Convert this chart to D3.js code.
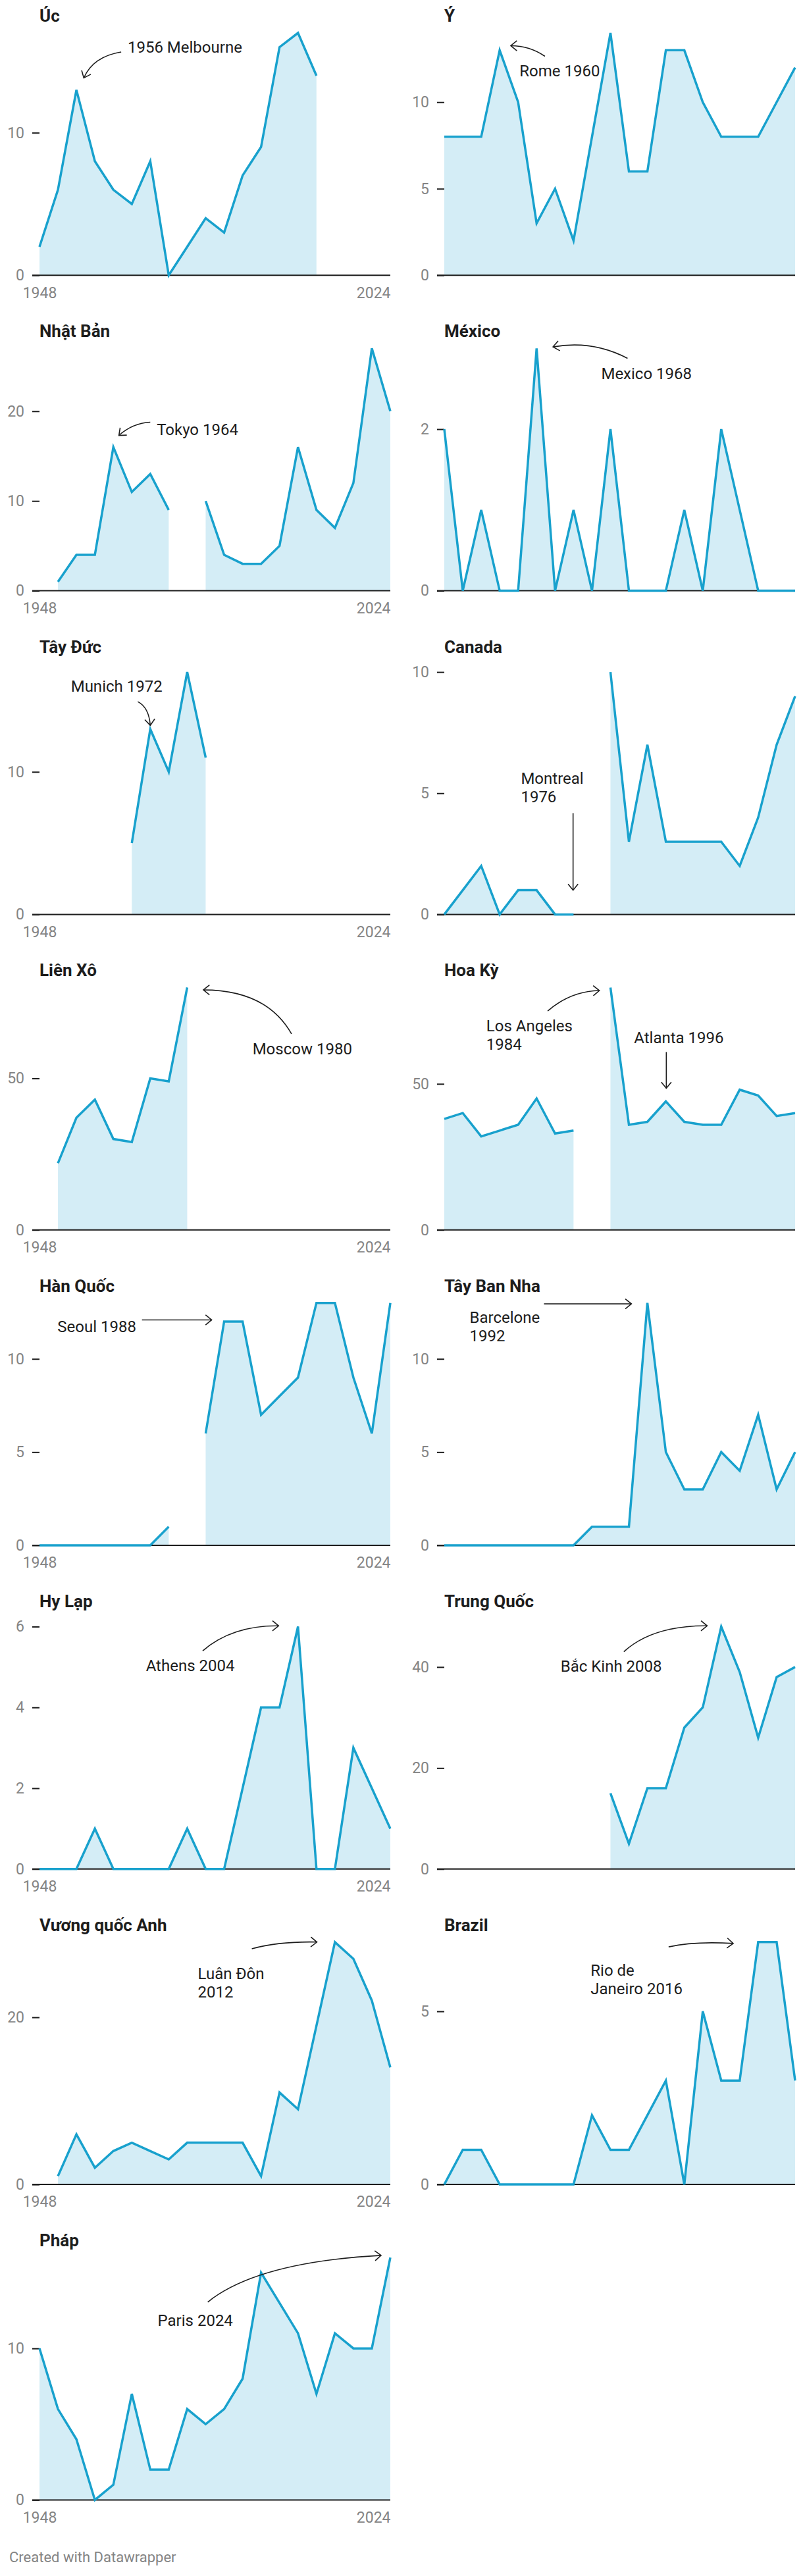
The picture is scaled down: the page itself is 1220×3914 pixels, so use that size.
<!DOCTYPE html>
<html lang="vi">
<head>
<meta charset="utf-8">
<script src="https://cdn.jsdelivr.net/npm/d3@7"></script>
<style>
  html, body { margin: 0; padding: 0; background: #fff; }
  svg { display: block; font-family: Roboto, "Noto Sans", sans-serif; }
</style>
</head>
<body>
<svg id="chart" width="1220" height="3914"></svg>
<script>
// Olympic gold medals per Games, 1948-2024 (null = did not take part / no data)
const years = d3.range(1948, 2025, 4);

const goldAustralia   = [2, 6, 13, 8, 6, 5, 8, 0, 2, 4, 3, 7, 9, 16, 17, 14, null, null, null, null];
const goldItaly       = [8, 8, 8, 13, 10, 3, 5, 2, 8, 14, 6, 6, 13, 13, 10, 8, 8, 8, 10, 12];
const goldJapan       = [null, 1, 4, 4, 16, 11, 13, 9, null, 10, 4, 3, 3, 5, 16, 9, 7, 12, 27, 20];
const goldMexico      = [2, 0, 1, 0, 0, 3, 0, 1, 0, 2, 0, 0, 0, 1, 0, 2, 1, 0, 0, 0];
const goldWestGermany = [null, null, null, null, null, 5, 13, 10, 17, 11, null, null, null, null, null, null, null, null, null, null];
const goldCanada      = [0, 1, 2, 0, 1, 1, 0, 0, null, 10, 3, 7, 3, 3, 3, 3, 2, 4, 7, 9];
const goldSoviet      = [null, 22, 37, 43, 30, 29, 50, 49, 80, null, null, null, null, null, null, null, null, null, null, null];
const goldUSA         = [38, 40, 32, 34, 36, 45, 33, 34, null, 83, 36, 37, 44, 37, 36, 36, 48, 46, 39, 40];
const goldKorea       = [0, 0, 0, 0, 0, 0, 0, 1, null, 6, 12, 12, 7, 8, 9, 13, 13, 9, 6, 13];
const goldSpain       = [0, 0, 0, 0, 0, 0, 0, 0, 1, 1, 1, 13, 5, 3, 3, 5, 4, 7, 3, 5];
const goldGreece      = [0, 0, 0, 1, 0, 0, 0, 0, 1, 0, 0, 2, 4, 4, 6, 0, 0, 3, 2, 1];
const goldChina       = [null, null, null, null, null, null, null, null, null, 15, 5, 16, 16, 28, 32, 48, 39, 26, 38, 40];
const goldBritain     = [null, 1, 6, 2, 4, 5, 4, 3, 5, 5, 5, 5, 1, 11, 9, 19, 29, 27, 22, 14];
const goldBrazil      = [0, 1, 1, 0, 0, 0, 0, 0, 2, 1, 1, 2, 3, 0, 5, 3, 3, 7, 7, 3];
const goldFrance      = [10, 6, 4, 0, 1, 7, 2, 2, 6, 5, 6, 8, 15, 13, 11, 7, 11, 10, 10, 16];

const countryNames = ['Úc', 'Ý', 'Nhật Bản', 'México', 'Tây Đức', 'Canada', 'Liên Xô', 'Hoa Kỳ',
  'Hàn Quốc', 'Tây Ban Nha', 'Hy Lạp', 'Trung Quốc', 'Vương quốc Anh', 'Brazil', 'Pháp'];
const countryGold = [goldAustralia, goldItaly, goldJapan, goldMexico, goldWestGermany, goldCanada,
  goldSoviet, goldUSA, goldKorea, goldSpain, goldGreece, goldChina, goldBritain, goldBrazil, goldFrance];
const yTicks = [[0, 10], [0, 5, 10], [0, 10, 20], [0, 2], [0, 10], [0, 5, 10], [0, 50], [0, 50],
  [0, 5, 10], [0, 5, 10], [0, 2, 4, 6], [0, 20, 40], [0, 20], [0, 5], [0, 10]];
const xTickLabels = [1948, 2024];

// annotations in data units: text anchor [year, value], arrow [start, control|null, end]
const annotations = [
  { panel: 0, lines: ['1956 Melbourne'], at: [1967.1, 16.0], arrow: [[1965.7, 15.66], [1959.6, 15.34], [1957.6, 13.84]] },
  { panel: 1, lines: ['Rome 1960'], at: [1964.3, 11.8], arrow: [[1969.8, 12.65], [1966.5, 13.26], [1962.4, 13.26]] },
  { panel: 2, lines: ['Tokyo 1964'], at: [1973.4, 17.94], arrow: [[1972.0, 18.77], [1968.2, 18.67], [1965.2, 17.3]] },
  { panel: 3, lines: ['Mexico 1968'], at: [1982.0, 2.686], arrow: [[1987.7, 2.876], [1980.1, 3.105], [1971.55, 3.018]] },
  { panel: 4, lines: ['Munich 1972'], at: [1954.8, 16.0], arrow: [[1969.3, 14.92], [1971.7, 14.52], [1972.0, 13.26]] },
  { panel: 5, lines: ['Montreal', '1976'], at: [1964.6, 5.62], arrow: [[1975.9, 4.18], null, [1975.9, 1.0]] },
  { panel: 6, lines: ['Moscow 1980'], at: [1994.15, 59.8], arrow: [[2002.6, 64.68], [1997.2, 79.2], [1983.5, 79.2]] },
  { panel: 7, lines: ['Los Angeles', '1984'], at: [1957.1, 69.92], arrow: [[1970.4, 74.96], [1975.4, 81.74], [1981.6, 81.95]] },
  { panel: 7, lines: ['Atlanta 1996'], at: [1989.1, 65.94], arrow: [[1996.1, 60.9], null, [1996.1, 48.5]] },
  { panel: 8, lines: ['Seoul 1988'], at: [1951.9, 11.74], arrow: [[1970.2, 12.09], null, [1985.3, 12.09]] },
  { panel: 9, lines: ['Barcelone', '1992'], at: [1953.5, 12.22], arrow: [[1969.6, 12.95], null, [1988.55, 12.95]] },
  { panel: 10, lines: ['Athens 2004'], at: [1971.05, 5.04], arrow: [[1983.35, 5.4], [1989.7, 6.03], [1999.8, 6.02]] },
  { panel: 11, lines: ['Bắc Kinh 2008'], at: [1973.2, 40.13], arrow: [[1986.9, 43.04], [1993.15, 48.24], [2004.95, 48.16]] },
  { panel: 12, lines: ['Luân Đôn', '2012'], at: [1982.3, 25.2], arrow: [[1994.0, 28.2], [2000.1, 29.1], [2008.1, 29.0]] },
  { panel: 13, lines: ['Rio de', 'Janeiro 2016'], at: [1979.7, 6.19], arrow: [[1996.6, 6.86], [2002.2, 7.03], [2010.6, 6.96]] },
  { panel: 14, lines: ['Paris 2024'], at: [1973.6, 11.84], arrow: [[1984.45, 13.06], [1995.2, 15.69], [2022.0, 16.14]] }
];

const BLUE = '#18a1cd';
const INK = '#1d1d1d';
const GREY = '#848484';

const colStart = [60, 675];
const plotW = 533;
const plotH = 368.3;
const rowStep = 479.3;
const topPad = 12.5;

const svg = d3.select('#chart');

// vertical position of every row (rows with a tick at the very top get pushed down)
const nRows = Math.ceil(countryNames.length / 2);
const rows = [];
let titleY = 33;
for (let r = 0; r < nRows; r++) {
  const idx = [2 * r, 2 * r + 1].filter(i => i < countryNames.length);
  const pad = idx.some(i => yTicks[i].includes(d3.max(countryGold[i]))) ? topPad : 0;
  const top = titleY + 17 + pad;
  rows.push({ titleY, top, base: top + plotH });
  titleY += rowStep + pad;
}

const panels = countryNames.map((name, i) => {
  const col = i % 2, row = rows[Math.floor(i / 2)];
  const x = d3.scaleLinear().domain([1948, 2024]).range([colStart[col], colStart[col] + plotW]);
  const y = d3.scaleLinear().domain([0, d3.max(countryGold[i])]).range([row.base, row.top]);
  return { name, col, row, x, y, data: years.map((yr, k) => ({ year: yr, v: countryGold[i][k] })) };
});

panels.forEach((p, i) => {
  const g = svg.append('g').attr('class', 'panel');

  g.append('text')
    .attr('x', p.x(1948)).attr('y', p.row.titleY)
    .attr('font-size', 26).attr('font-weight', 700).attr('fill', INK)
    .text(p.name);

  const area = d3.area()
    .defined(d => d.v != null)
    .x(d => p.x(d.year)).y0(p.y(0)).y1(d => p.y(d.v));
  g.append('path').datum(p.data)
    .attr('d', area).attr('fill', BLUE).attr('fill-opacity', 0.19);

  // y axis ticks
  const yAxis = g.append('g')
    .attr('transform', `translate(${p.x(1948)},0)`)
    .call(d3.axisLeft(p.y).tickValues(yTicks[i]).tickSize(11).tickPadding(12).tickFormat(d3.format('d')));
  yAxis.select('.domain').remove();
  yAxis.selectAll('.tick line').attr('stroke', INK).attr('stroke-width', 2);
  yAxis.selectAll('.tick text').attr('fill', GREY).attr('font-size', 23).attr('font-family', 'Roboto, sans-serif');

  // baseline
  g.append('line')
    .attr('x1', p.x(1948) - 11).attr('x2', p.x(2024))
    .attr('y1', p.y(0)).attr('y2', p.y(0))
    .attr('stroke', INK).attr('stroke-width', 2);

  // x labels, only in the left column
  if (p.col === 0) {
    const xAxis = g.append('g')
      .attr('transform', `translate(0,${p.y(0)})`)
      .call(d3.axisBottom(p.x).tickValues(xTickLabels).tickSize(0).tickPadding(18).tickFormat(d3.format('d')));
    xAxis.select('.domain').remove();
    xAxis.selectAll('.tick text')
      .attr('fill', GREY).attr('font-size', 23).attr('font-family', 'Roboto, sans-serif')
      .attr('text-anchor', d => d === 2024 ? 'end' : 'middle');
  }

  const line = d3.line()
    .defined(d => d.v != null)
    .x(d => p.x(d.year)).y(d => p.y(d.v));
  g.append('path').datum(p.data)
    .attr('d', line).attr('fill', 'none')
    .attr('stroke', BLUE).attr('stroke-width', 3.5);
});

// annotations
annotations.forEach(a => {
  const p = panels[a.panel];
  const pt = d => [p.x(d[0]), p.y(d[1])];
  const g = svg.append('g').attr('class', 'annotation');
  const [tx, ty] = pt(a.at);
  const t = g.append('text')
    .attr('x', tx).attr('y', ty)
    .attr('font-size', 24).attr('fill', INK);
  a.lines.forEach((ln, k) => {
    t.append('tspan').attr('x', tx).attr('dy', k === 0 ? '0.35em' : 28).text(ln);
  });

  const [s, c, e] = a.arrow;
  const p0 = pt(s), p1 = pt(e), pc = c ? pt(c) : null;
  const d = pc ? `M${p0}Q${pc} ${p1}` : `M${p0}L${p1}`;
  g.append('path').attr('d', d).attr('fill', 'none').attr('stroke', INK).attr('stroke-width', 1.6);
  const from = pc || p0;
  const ang = Math.atan2(p1[1] - from[1], p1[0] - from[0]);
  const len = 12, spread = Math.PI / 4.6;
  const h1 = [p1[0] - len * Math.cos(ang - spread), p1[1] - len * Math.sin(ang - spread)];
  const h2 = [p1[0] - len * Math.cos(ang + spread), p1[1] - len * Math.sin(ang + spread)];
  g.append('path').attr('d', `M${h1}L${p1}L${h2}`)
    .attr('fill', 'none').attr('stroke', INK).attr('stroke-width', 1.6);
});

svg.append('text')
  .attr('x', 14).attr('y', 3893)
  .attr('font-size', 22).attr('fill', GREY)
  .text('Created with Datawrapper');
</script>
</body>
</html>
